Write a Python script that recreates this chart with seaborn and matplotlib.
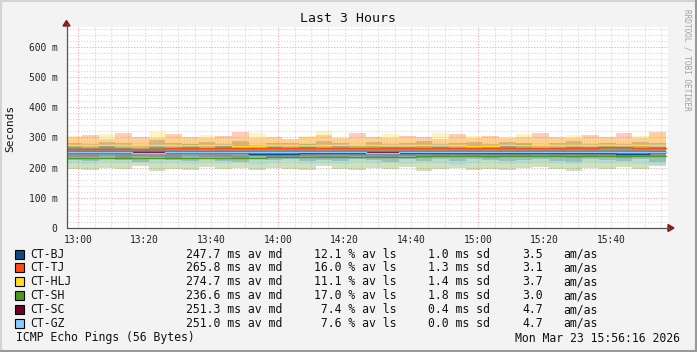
import numpy as np
import pandas as pd
import matplotlib
matplotlib.use("Agg")
import matplotlib.pyplot as plt
import seaborn as sns
from matplotlib.patches import Polygon, Rectangle
from matplotlib.lines import Line2D

sns.set_theme(style="white")
plt.rcParams["font.family"] = ["DejaVu Sans Mono", "DejaVu Sans"]

# ---------------- data ----------------
hosts = ["CT-BJ", "CT-TJ", "CT-HLJ", "CT-SH", "CT-SC", "CT-GZ"]
colors = ["#0E4A85", "#FF4A12", "#FFDD22", "#4C9A1C", "#6E0020", "#88CCFF"]

avg_median = [247.7, 265.8, 274.7, 236.6, 251.3, 251.0]
avg_loss = [12.1, 16.0, 11.1, 17.0, 7.4, 7.6]
sd_ms = [1.0, 1.3, 1.4, 1.8, 0.4, 0.0]
am_as = [3.5, 3.1, 3.7, 3.0, 4.7, 4.7]

start_time = "2026-03-23 12:56:15"
n_steps = 36

med_BJ = [251,251,251,251,251,251,251,251,251,251,251,244,244,244,250,250,250,247,247,247,250,250,250,247,247,247,247,250,250,250,248,248,248,245,245,252]
hi_BJ = [282,278,286,280,275,290,281,277,284,279,288,276,283,280,278,287,281,276,285,279,282,289,277,280,284,278,286,281,276,283,288,279,282,277,285,280]
lo_BJ = [226,222,229,224,220,231,225,221,228,223,219,227,224,230,222,226,221,228,225,220,229,223,227,222,230,224,221,226,228,223,220,227,225,222,229,218]

med_TJ = [262,262,262,262,262,262,266,266,266,266,266,266,266,265,265,265,265,265,266,266,266,266,266,266,266,266,266,266,266,266,266,266,268,268,266,266]
hi_TJ = [300,308,296,315,302,298,311,300,297,305,318,299,303,296,300,309,297,314,301,298,306,300,296,312,299,304,297,300,316,303,298,307,300,315,299,318]
lo_TJ = [242,238,245,240,236,243,239,244,241,237,245,240,238,243,236,241,244,239,242,237,240,245,238,241,236,243,240,238,244,239,242,237,241,236,243,240]

med_HLJ = [276,276,275,275,274,274,276,276,275,275,273,273,274,274,276,276,275,275,274,274,276,276,275,275,273,273,275,275,276,276,274,274,275,275,274,274]
hi_HLJ = [305,298,312,300,296,318,304,300,309,297,302,315,300,296,306,320,299,303,297,310,301,296,314,300,305,298,303,311,297,300,308,299,302,296,305,312]
lo_HLJ = [258,255,260,256,259,254,257,261,255,258,256,260,254,257,259,255,258,262,256,254,259,257,255,260,258,256,254,259,257,261,255,258,256,260,257,255]

med_SH = [231,231,231,231,231,233,233,233,233,233,233,233,235,235,235,235,235,235,235,235,235,238,238,238,238,238,238,238,238,238,239,239,239,239,239,239]
hi_SH = [272,268,276,270,265,274,269,278,266,271,275,268,273,267,277,270,266,272,275,269,264,276,271,268,274,267,273,277,265,270,275,268,272,266,274,270]
lo_SH = [196,192,199,194,205,190,197,193,201,195,198,191,200,196,193,204,197,192,199,194,202,189,196,200,193,197,191,198,203,195,190,199,194,201,196,205]

med_SC = [252,252,251,251,251,251,252,252,251,251,251,251,251,251,251,251,252,252,251,251,251,251,251,251,251,251,251,252,252,251,251,251,251,251,251,251]
hi_SC = [268,264,271,266,262,270,265,267,263,272,266,261,269,265,268,263,271,266,262,269,267,264,270,265,263,268,271,264,266,262,270,267,265,269,263,268]
lo_SC = [236,234,238,233,237,235,232,239,234,236,233,238,235,232,237,234,236,239,233,235,238,232,236,234,237,233,235,238,234,236,232,237,235,233,238,234]

med_GZ = [251,251,251,251,250,250,251,251,251,251,251,251,252,252,251,251,251,251,250,250,251,251,251,251,251,251,251,251,252,252,251,251,251,251,251,251]
hi_GZ = [276,270,279,273,268,277,271,275,269,278,272,267,276,270,274,268,279,271,266,275,273,269,277,270,274,268,278,272,267,275,271,276,269,273,268,283]
lo_GZ = [216,212,219,214,221,211,217,213,220,215,218,210,216,222,213,217,211,219,214,220,212,218,215,210,217,221,213,216,219,214,211,218,215,220,212,208]

medians = [med_BJ, med_TJ, med_HLJ, med_SH, med_SC, med_GZ]
his = [hi_BJ, hi_TJ, hi_HLJ, hi_SH, hi_SC, hi_GZ]
los = [lo_BJ, lo_TJ, lo_HLJ, lo_SH, lo_SC, lo_GZ]

y_tick_values = [0, 100, 200, 300, 400, 500, 600]
y_tick_labels = ["0", "100 m", "200 m", "300 m", "400 m", "500 m", "600 m"]
x_tick_labels = ["13:00", "13:20", "13:40", "14:00", "14:20", "14:40", "15:00", "15:20", "15:40"]

# ---------------- figure ----------------
W, H = 697, 352
fig = plt.figure(figsize=(W / 100, H / 100), dpi=100, facecolor="#F3F3F3")


def fx(px):
    return px / W


def fy(py):
    return 1 - py / H


PL, PR, PT, PB = 67, 668, 27, 228
ax = fig.add_axes([fx(PL), fy(PB), (PR - PL) / W, (PB - PT) / H])
ax.set_facecolor("white")

base = pd.Timestamp("2026-03-23 12:00:00")
edges_ts = pd.date_range(start_time, periods=n_steps + 1, freq="5min")
edges = [(t - base).total_seconds() / 60 for t in edges_ts]

xlim = (56.7, 237.0)
ylim = (0, 666)
ax.set_xlim(*xlim)
ax.set_ylim(*ylim)

# grid
minor_c = "#D6D6D6"
major_c = "#F2A8A8"
for v in np.arange(0, 667, 20):
    if v % 100 != 0:
        ax.axhline(v, color=minor_c, lw=0.8, ls=(0, (1, 1.5)), zorder=0)
for v in np.arange(60, 237, 5):
    if v % 60 != 0:
        ax.axvline(v, color=minor_c, lw=0.8, ls=(0, (1, 1.5)), zorder=0)
for v in y_tick_values[1:]:
    ax.axhline(v, color=major_c, lw=0.8, ls=(0, (1, 1.5)), zorder=0.5)
for v in [60, 120, 180]:
    ax.axvline(v, color=major_c, lw=0.8, ls=(0, (1, 1.5)), zorder=0.5)

# smoke
for c, lo, hi in zip(colors, los, his):
    ax.fill_between(edges, lo + [lo[-1]], hi + [hi[-1]], step="post",
                    color=c, alpha=0.28, lw=0, zorder=1)

# median lines
for h, c, m in zip(hosts, colors, medians):
    sns.lineplot(x=edges, y=m + [m[-1]], drawstyle="steps-post", color=c,
                 lw=1.0, ax=ax, zorder=3, legend=False)

ax.set_xlabel("")
ax.set_ylabel("")
ax.set_xticks([60 + 20 * i for i in range(len(x_tick_labels))])
ax.set_xticklabels(x_tick_labels)
ax.set_yticks(y_tick_values)
ax.set_yticklabels(y_tick_labels)
ax.tick_params(axis="both", labelsize=6.9, length=2, width=0.6, color="#999999",
               colors="#222222", direction="out")
ax.tick_params(axis="y", pad=5)
ax.tick_params(axis="x", pad=3)
for s in ax.spines.values():
    s.set_visible(False)

# axes lines and arrows
fig.add_artist(Line2D([fx(66.5), fx(669)], [fy(228), fy(228)], color="#555555", lw=0.9))
fig.add_artist(Line2D([fx(66.5), fx(66.5)], [fy(228), fy(24)], color="#555555", lw=0.9))
fig.add_artist(Polygon([[fx(668), fy(224.5)], [fx(674), fy(228)], [fx(668), fy(231.5)]],
                       closed=True, color="#8B1A1A"))
fig.add_artist(Polygon([[fx(63), fy(26)], [fx(66.5), fy(20.5)], [fx(70), fy(26)]],
                       closed=True, color="#8B1A1A"))

# texts
fig.text(fx(348), fy(19), "Last 3 Hours", ha="center", va="center", fontsize=9.5, color="#111111")
fig.text(fx(10), fy(128), "Seconds", ha="center", va="center", rotation=90, fontsize=8, color="#111111")
fig.text(fx(687), fy(60), "RRDTOOL / TOBI OETIKER", ha="center", va="center", rotation=270,
         fontsize=5.6, color="#A0A0A0")

# legend
for i, h in enumerate(hosts):
    yc = 254 + 13.9 * i
    fig.add_artist(Rectangle((fx(15), fy(yc + 4.5)), 8.5 / W, 9 / H, facecolor=colors[i],
                             edgecolor="black", lw=0.8))
    kw = dict(va="center", ha="left", fontsize=8.3, color="#111111")
    fig.text(fx(30), fy(yc), h, **kw)
    fig.text(fx(186), fy(yc), f"{avg_median[i]:.1f} ms av md", **kw)
    fig.text(fx(314), fy(yc), f"{avg_loss[i]:4.1f} % av ls", **kw)
    fig.text(fx(428), fy(yc), f"{sd_ms[i]:.1f} ms sd", **kw)
    fig.text(fx(522), fy(yc), f"{am_as[i]:.1f}", **kw)
    fig.text(fx(563), fy(yc), "am/as", **kw)

fig.text(fx(16), fy(338), "ICMP Echo Pings (56 Bytes)", va="center", ha="left", fontsize=8.3, color="#111111")
fig.text(fx(680), fy(338), "Mon Mar 23 15:56:16 2026", va="center", ha="right", fontsize=8.3, color="#111111")

# frame
fig.add_artist(Line2D([0, 1], [fy(0.75), fy(0.75)], color="#D4D4D4", lw=1.5))
fig.add_artist(Line2D([fx(0.75), fx(0.75)], [0, 1], color="#D4D4D4", lw=1.5))
fig.add_artist(Line2D([0, 1], [fy(350.5), fy(350.5)], color="#999999", lw=2.2))
fig.add_artist(Line2D([fx(695.5), fx(695.5)], [0, 1], color="#999999", lw=2.2))

fig.savefig("out.png", dpi=100, facecolor=fig.get_facecolor())
